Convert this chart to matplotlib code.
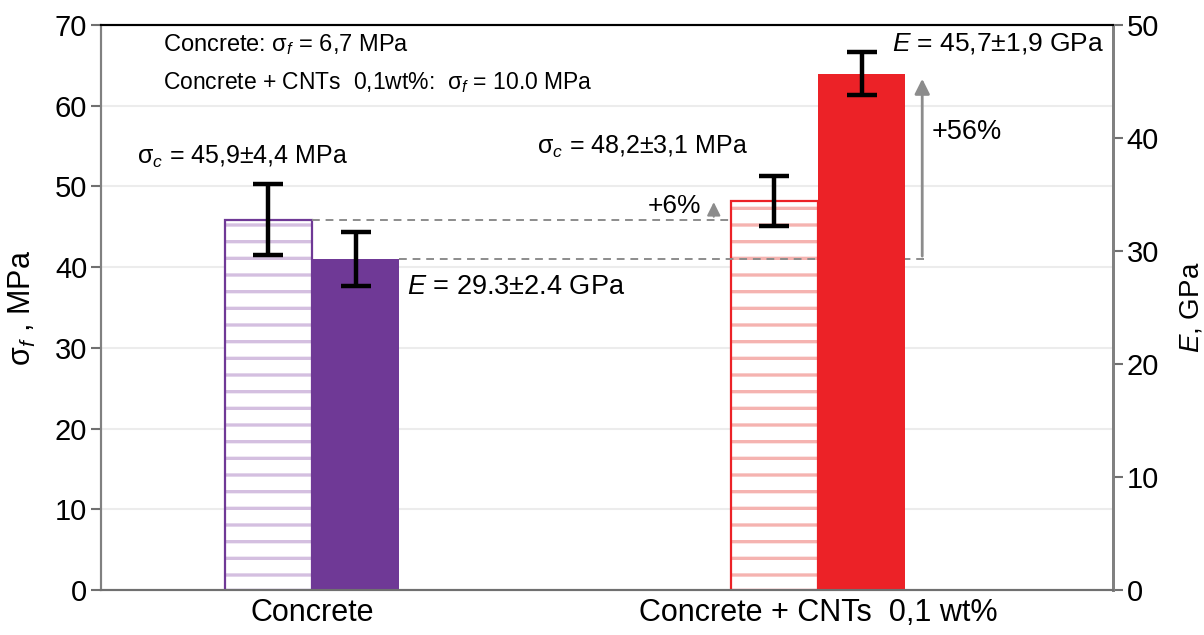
import matplotlib
matplotlib.use("Agg")
import matplotlib.pyplot as plt
from matplotlib import font_manager

# Compressive strength (left axis, MPa) and Young's modulus (right axis, GPa)
groups = ["Concrete", "Concrete + CNTs  0,1 wt%"]
sigma_c = [45.9, 48.2]
sigma_c_err = [4.4, 3.1]
modulus = [29.3, 45.7]
modulus_err = [2.4, 1.9]

purple = "#6f3996"
red = "#ec2227"
hatch_colors = ["#d4bfe0", "#f5b3b0"]
bar_colors = [purple, red]

names = {f.name for f in font_manager.fontManager.ttflist}
narrow = "Liberation Sans Narrow" if "Liberation Sans Narrow" in names else "Liberation Sans"
plt.rcParams["font.family"] = [narrow, "DejaVu Sans"]
plt.rcParams["mathtext.fontset"] = "custom"
plt.rcParams["mathtext.rm"] = "Liberation Sans"
plt.rcParams["mathtext.it"] = "Liberation Sans:italic"
plt.rcParams["hatch.linewidth"] = 2.4

fig = plt.figure(figsize=(12.04, 6.35), dpi=100)
ax = fig.add_axes([0.0839, 0.0709, 0.8405, 0.8897])
ax2 = ax.twinx()

w = 0.172
x = [0, 1]
e_scale = 70 / 50  # right axis mapped onto left axis height

for i in x:
    xl = i - w / 2
    xr = i + w / 2
    # hatched open bar for compressive strength
    ax.bar(xl, sigma_c[i], width=w, color="white", edgecolor=hatch_colors[i],
           hatch="-", linewidth=0, zorder=2)
    ax.bar(xl, sigma_c[i], width=w, fill=False, edgecolor=bar_colors[i],
           linewidth=1.6, zorder=3)
    ax.errorbar(xl, sigma_c[i], yerr=sigma_c_err[i], fmt="none", ecolor="black",
                elinewidth=3.2, capsize=11, capthick=3.2, zorder=6)
    # filled bar for modulus on the right axis
    ax2.bar(xr, modulus[i], width=w, color=bar_colors[i], edgecolor=bar_colors[i],
            linewidth=0, zorder=2)
    ax2.errorbar(xr, modulus[i], yerr=modulus_err[i], fmt="none", ecolor="black",
                 elinewidth=3.2, capsize=11, capthick=3.2, zorder=6)

# reference lines and increase arrows
ax.plot([0, 1 - w], [sigma_c[0], sigma_c[0]], ls=(0, (4, 3)), color="#8c8c8c",
        lw=1.4, zorder=5)
ax.plot([w, 1.218], [modulus[0] * e_scale] * 2, ls=(0, (4, 3)), color="#8c8c8c",
        lw=1.4, zorder=5)
ax.annotate("", xy=(0.794, sigma_c[1] + 0.2), xytext=(0.794, sigma_c[0]),
            arrowprops=dict(arrowstyle="-|>,head_width=0.4,head_length=0.8",
                            color="#8c8c8c", lw=1.5), zorder=5)
ax.annotate("", xy=(1.206, modulus[1] * e_scale - 0.3),
            xytext=(1.206, modulus[0] * e_scale),
            arrowprops=dict(arrowstyle="-|>,head_width=0.45,head_length=0.9",
                            color="#8c8c8c", lw=2), zorder=5)

# annotations
reg = ["Liberation Sans", "DejaVu Sans"]
ax.text(-0.294, 67.6, r"Concrete: $\mathrm{\sigma}_{\mathit{f}}$ = 6,7 MPa",
        fontsize=17, va="center", ha="left")
ax.text(-0.294, 62.9, r"Concrete + CNTs  0,1wt%:  $\mathrm{\sigma}_{\mathit{f}}$ = 10.0 MPa",
        fontsize=16.5, va="center", ha="left")
ax.text(-0.346, 53.7, r"$\mathrm{\sigma}_{\mathit{c}}$ = 45,9$\pm$4,4 MPa",
        fontsize=18, va="center", ha="left", family=reg)
ax.text(0.445, 54.9, r"$\mathrm{\sigma}_{\mathit{c}}$ = 48,2$\pm$3,1 MPa",
        fontsize=18, va="center", ha="left", family=reg)
ax.text(0.188, 37.5, r"$\mathit{E}$ = 29.3$\pm$2.4 GPa",
        fontsize=19.5, va="center", ha="left", family=reg)
ax.text(1.146, 67.7, r"$\mathit{E}$ = 45,7$\pm$1,9 GPa",
        fontsize=19, va="center", ha="left", family=reg)
ax.text(0.664, 47.6, "+6%", fontsize=19, va="center", ha="left", family=reg)
ax.text(1.225, 56.7, "+56%", fontsize=19.5, va="center", ha="left", family=reg)

# axes
ax.set_xlim(-0.417, 1.583)
ax.set_ylim(0, 70)
ax2.set_ylim(0, 50)
ax.set_yticks(range(0, 71, 10))
ax2.set_yticks(range(0, 51, 10))
ax.set_xticks(x)
ax.set_xticklabels(groups, fontsize=22)
ax.tick_params(axis="x", length=0, pad=6)
ax.tick_params(axis="y", labelsize=21, length=7, width=1.5, color="#707070", pad=3)
ax2.tick_params(axis="y", labelsize=21, length=7, width=1.5, color="#707070", pad=3)
ax.yaxis.grid(True, color="#ececec", lw=1.5)
ax.set_axisbelow(True)

for a in (ax, ax2):
    a.spines["top"].set_color("black")
    a.spines["top"].set_linewidth(1.5)
    a.spines["left"].set_color("#808080")
    a.spines["left"].set_linewidth(1.5)
    a.spines["right"].set_color("#808080")
    a.spines["right"].set_linewidth(2)
    a.spines["bottom"].set_color("#707070")
    a.spines["bottom"].set_linewidth(1.5)

ax.set_ylabel(r"$\mathrm{\sigma}_{\mathit{f}}$ , MPa", fontsize=22, family=reg, labelpad=12)
ax2.set_ylabel(r"$\mathit{E}$, GPa", fontsize=20, labelpad=14, rotation=90)

fig.savefig("out.png", dpi=100)
